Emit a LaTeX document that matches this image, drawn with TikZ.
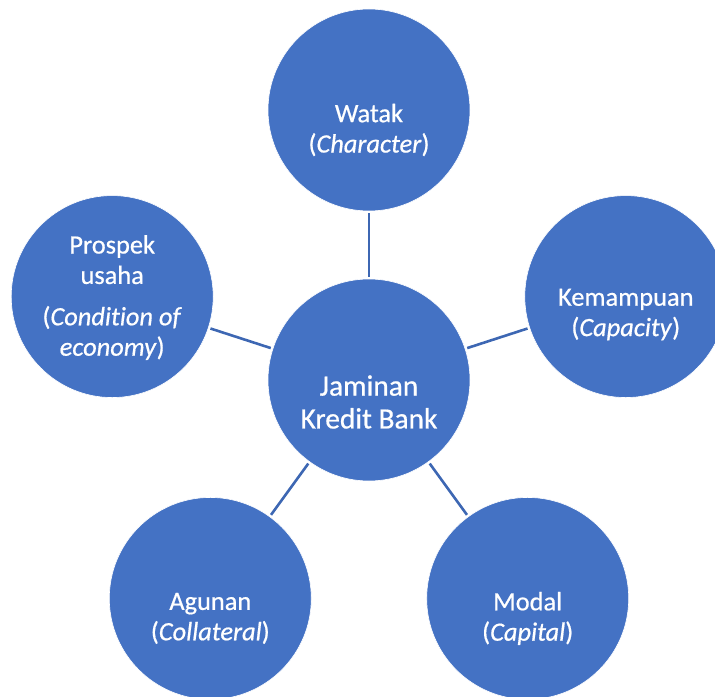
\documentclass[tikz,border=0pt]{standalone}
\usepackage{fontspec}
\setmainfont{Carlito}[Ligatures=NoCommon, FakeBold=0.6, UprightFeatures={FakeBold=0.6}, ItalicFeatures={FakeBold=0.6}]
\definecolor{bleu}{HTML}{4472C4}
\definecolor{bleufonce}{HTML}{3D67B3}

\begin{document}
\begin{tikzpicture}
\tikzset{rond/.style={circle, fill=bleu, draw=white, line width=0.6bp, minimum size=202bp, inner sep=0pt},
         texte/.style={text=white, align=center, font=\fontsize{26.5}{30.5}\selectfont},
         lien/.style={bleufonce, line width=2.6bp, shorten <=2bp, shorten >=2bp}}
\useasboundingbox (-369bp, -317bp) rectangle (346bp, 380bp);
\clip (-369bp, -317bp) rectangle (346bp, 380bp);
\node[rond] (C) at (0, 0) {};
\node[rond] (V1) at (90:270bp) {};
\node[rond] (V2) at (18:270bp) {};
\node[rond] (V3) at (-54:270bp) {};
\node[rond] (V4) at (234:270bp) {};
\node[rond] (V5) at (162:270bp) {};
\draw[lien] (C) -- (V1);
\draw[lien] (C) -- (V2);
\draw[lien] (C) -- (V3);
\draw[lien] (C) -- (V4);
\draw[lien] (C) -- (V5);
\node[texte, font=\fontsize{29.5}{33}\selectfont] (TC) at ([yshift=-22bp]C.center) {Jaminan\\Kredit Bank};
\node[texte] (T1) at ([yshift=-20bp]V1.center) {Watak\\(\textit{Character})};
\node[texte] (T2) at ([yshift=-18bp]V2.center) {Kemampuan\\(\textit{Capacity})};
\node[texte] (T3) at ([yshift=-20bp]V3.center) {Modal\\(\textit{Capital})};
\node[texte] (T4) at ([yshift=-20bp]V4.center) {Agunan\\(\textit{Collateral})};
\node[texte] (T5) at ([yshift=-1bp]V5.center) {Prospek\\usaha\\[11bp](\textit{Condition of}\\\textit{economy})};
\end{tikzpicture}
\end{document}
